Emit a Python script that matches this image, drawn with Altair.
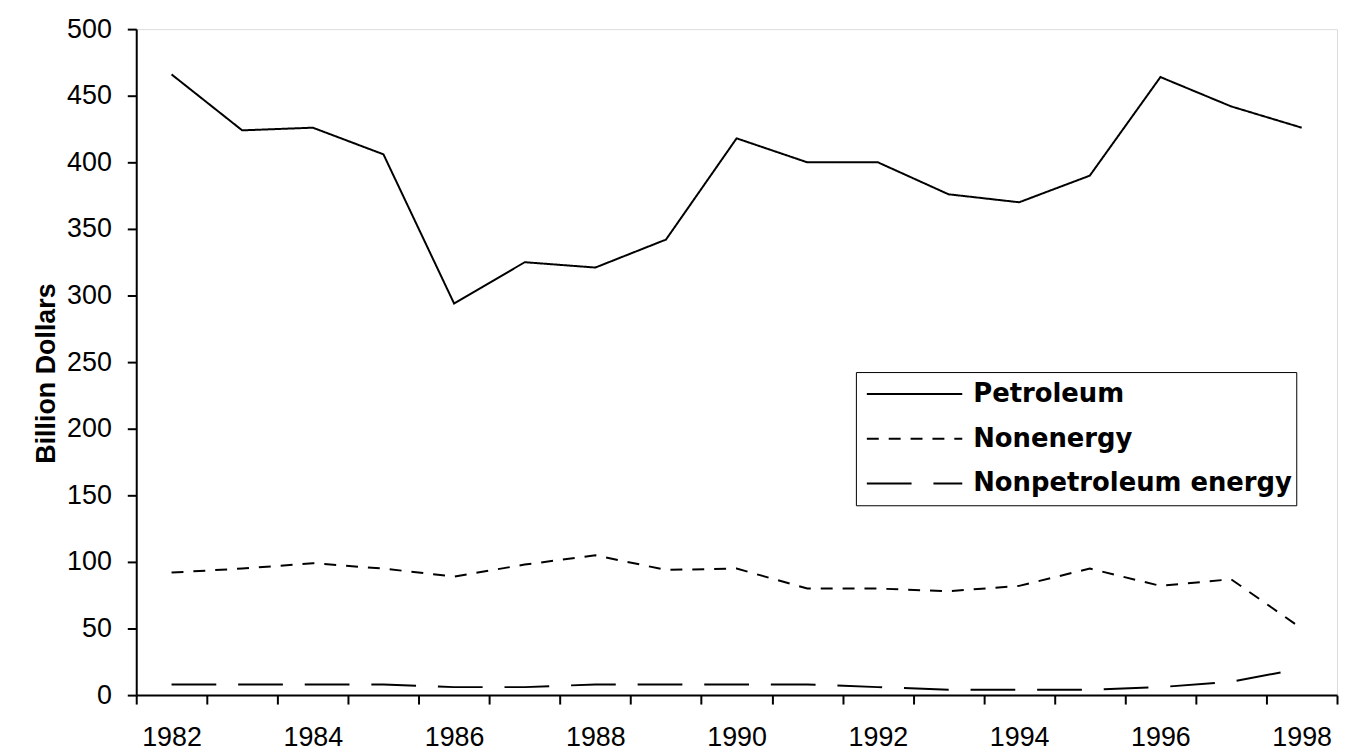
import altair as alt
import pandas as pd

years = list(range(1982, 1999))
petroleum = [466, 424, 426, 406, 294, 325, 321, 342, 418, 400, 400, 376, 370, 390, 464, 442, 426]
nonenergy = [92, 95, 99, 95, 89, 98, 105, 94, 95, 80, 80, 78, 82, 95, 82, 87, 50]
nonpetroleum = [8, 8, 8, 8, 6, 6, 8, 8, 8, 8, 6, 4, 4, 4, 6, 10, 20]
series_names = ["Petroleum", "Nonenergy", "Nonpetroleum energy"]
y_ticks = list(range(0, 501, 50))
x_label_years = [1982, 1984, 1986, 1988, 1990, 1992, 1994, 1996, 1998]
x_tick_positions = [yr - 0.5 for yr in years] + [years[-1] + 0.5]

rows = []
for name, vals in zip(series_names, [petroleum, nonenergy, nonpetroleum]):
    for yr, v in zip(years, vals):
        rows.append({"year": yr, "value": v, "series": name})
df = pd.DataFrame(rows)

x_scale = alt.Scale(domain=[years[0] - 0.5, years[-1] + 0.5], nice=False, zero=False)
y_enc = alt.Y(
    "value:Q",
    scale=alt.Scale(domain=[0, 500], nice=False),
    axis=alt.Axis(
        values=y_ticks,
        title="Billion Dollars",
        titleFont="Liberation Sans",
        titleFontWeight="bold",
        titleFontSize=27,
        titleColor="black",
        titlePadding=6,
        titleY=346,
        labelFont="Liberation Sans",
        labelFontSize=27,
        labelColor="black",
        labelPadding=16,
        tickSize=9,
        tickWidth=2,
        tickColor="black",
        domainColor="black",
        domainWidth=2,
        grid=False,
    ),
)

dash = alt.StrokeDash(
    "series:N",
    scale=alt.Scale(domain=series_names, range=[[1, 0], [12, 10], [45, 22]]),
    legend=alt.Legend(
        title=None,
        orient="none",
        legendX=724,
        legendY=345,
        symbolType="stroke",
        symbolSize=9216,
        symbolStrokeWidth=2,
        symbolStrokeColor="black",
        clipHeight=36,
        rowPadding=9,
        padding=4,
        symbolOffset=6,
        labelOffset=10,
        labelFont="DejaVu Sans",
        labelFontWeight="bold",
        labelFontSize=26,
        labelColor="black",
        labelLimit=500,
        strokeColor="black",
        fillColor="white",
    ),
)

lines = alt.Chart(df).mark_line(color="black", strokeWidth=2).encode(
    x=alt.X(
        "year:Q",
        scale=x_scale,
        axis=alt.Axis(
            values=x_tick_positions,
            labels=False,
            ticks=True,
            tickSize=9,
            tickWidth=2,
            tickColor="black",
            domainColor="black",
            domainWidth=2,
            grid=False,
            title=None,
            orient="bottom",
        ),
    ),
    y=y_enc,
    strokeDash=dash,
)

labels = alt.Chart(df).mark_point(opacity=0).encode(
    x=alt.X(
        "year:Q",
        scale=x_scale,
        axis=alt.Axis(
            values=x_label_years,
            format="d",
            ticks=False,
            tickSize=0,
            domain=False,
            grid=False,
            title=None,
            orient="bottom",
            labelFont="Liberation Sans",
            labelFontSize=27,
            labelColor="black",
            labelPadding=30,
            labelFlush=False,
        ),
    ),
    y=y_enc,
)

chart = (
    alt.layer(lines, labels)
    .resolve_axis(x="independent")
    .properties(
        width=1208,
        height=670,
        autosize="none",
        padding={"left": 129, "top": 19, "right": 2, "bottom": 57},
    )
    .configure_view(stroke=None)
    .configure(background="white")
)

chart.save("out.html", embed_options={"renderer": "svg", "actions": False})
